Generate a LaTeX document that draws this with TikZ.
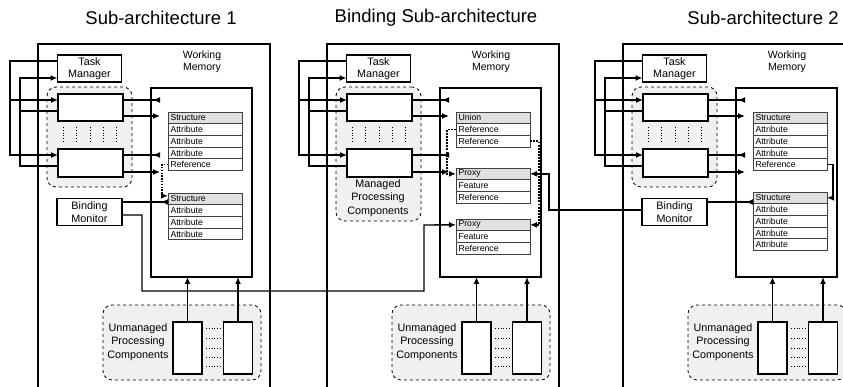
\documentclass[tikz,border=0pt]{standalone}
\usepackage{fontspec}
\setmainfont{Liberation Sans}
\usetikzlibrary{arrows.meta,calc}
\newcommand\mktable[5]{%
  \node[hrow] (#1-1) at (#2,#3) {#4};
  \foreach [count=\k from 2] \t in {#5} {\node[row] (#1-\k) at (#2,{#3+(\k-1)*11.7}) {\t};}%
}
\begin{document}
\begin{tikzpicture}[x=1pt,y=-1pt,
  every node/.style={inner sep=0pt, outer sep=0pt},
  box/.style={draw, line width=1.2pt, fill=white, minimum width=65pt, minimum height=27pt, align=center, font=\fontsize{10.8}{12.5}\selectfont},
  grp/.style={draw, dashed, line width=0.8pt, fill=black!6, rounded corners=9pt, anchor=north west},
  wmbox/.style={draw, line width=1.8pt, anchor=north west},
  outer/.style={line width=1.4pt},
  row/.style={draw=black!75, line width=0.6pt, fill=white, anchor=north west, minimum height=11.7pt, text width=69pt, inner xsep=2.5pt, align=left, font=\fontsize{8.7}{9}\selectfont},
  hrow/.style={row, fill=black!12},
  conn/.style={line width=1.4pt},
  tip/.style={-{Latex[length=7pt,width=6pt]}},
  rtip/.style={-{Latex[length=7pt,width=6pt,reversed]}},
  dotsa/.style={line width=1.4pt, dash pattern=on 1.4pt off 1.4pt},
  dotsb/.style={line width=1.9pt, dash pattern=on 1.9pt off 1.2pt},
  sep/.style={line width=0.8pt, dotted},
  lbl/.style={align=center, font=\fontsize{10.8}{13.5}\selectfont},
  ttl/.style={font=\fontsize{18.5}{22}\selectfont}
]
\useasboundingbox (0,0) rectangle (843,387);
\clip (0,0) rectangle (843,387);

\node[ttl] (t1) at (161,18) {Sub-architecture 1};
\node[ttl] (t2) at (436,18) {Binding Sub-architecture};
\node[ttl] (t3) at (763,18) {Sub-architecture 2};

\foreach \o/\sid/\gh in {0/a/100, 289/b/134, 585/c/100} {
 \begin{scope}[xshift=\o pt]
  \draw[outer] (38,395) -- (38,44) -- (270,44) -- (270,395);
  \node[box, minimum width=64pt] (tm\sid) at (89.5,68.5) {Task\\Manager};
  \node[grp, minimum width=85pt, minimum height=\gh pt] (mg\sid) at (47,87) {};
  \node[box] (ca\sid) at (90.5,107.5) {};
  \node[box, minimum height=28pt] (cb\sid) at (90.5,163) {};
  \foreach \vx in {63,76.5,90,103,116} \draw[sep] (\vx,127) -- (\vx,143);
  \node[wmbox, minimum width=101pt, minimum height=189pt] (wm\sid) at (151,88) {};
  \node[align=center, font=\fontsize{10.5}{12.5}\selectfont] (wl\sid) at (202,62) {Working\\Memory};
  % feedback lines
  \draw[conn,tip] (tm\sid.west |- 0,61) -| (10,155) -- (cb\sid.west |- 0,155);
  \draw[conn,tip] (10,100) -- (ca\sid.west |- 0,100);
  \draw[conn,tip] (ca\sid.west |- 0,111) -| (20,78) -- (tm\sid.west |- 0,78);
  \draw[conn] (cb\sid.west |- 0,166) -| (20,111);
  % components to WM
  \draw[conn,rtip] (ca\sid.east |- 0,100) -- (160,100);
  \draw[conn,tip] (ca\sid.east |- 0,116) -- (160,116);
  \draw[conn,rtip] (cb\sid.east |- 0,155) -- (160,155);
  \draw[conn,tip] (cb\sid.east |- 0,172) -- (160,172);
  % unmanaged
  \node[grp, minimum width=158pt, minimum height=75pt] (ug\sid) at (103,305) {};
  \node[lbl] (ut\sid) at (138,342) {Unmanaged\\Processing\\Components};
  \node[box, minimum width=29pt, minimum height=52pt] (ua\sid) at (187.5,348) {};
  \node[box, minimum width=29pt, minimum height=52pt] (ub\sid) at (238,348) {};
  \foreach \dy in {328,338,348,357,366} \draw[sep] (206,\dy) -- (222,\dy);
  \draw[conn,tip] (ua\sid.north) -- (ua\sid.north |- wm\sid.south);
  \draw[conn,tip] (ub\sid.north) -- (ub\sid.north |- wm\sid.south);
 \end{scope}
}

\node[lbl] (mgt) at (378,198) {Managed\\Processing\\Components};

% tables
\mktable{sa}{168}{112}{Structure}{Attribute,Attribute,Attribute,Reference}
\mktable{sb}{168}{193}{Structure}{Attribute,Attribute,Attribute}
\mktable{un}{456}{112}{Union}{Reference,Reference}
\mktable{pa}{456}{168}{Proxy}{Feature,Reference}
\mktable{pb}{456}{219}{Proxy}{Feature,Reference}
\mktable{ta}{753}{112}{Structure}{Attribute,Attribute,Attribute,Reference}
\mktable{tb}{753}{192}{Structure}{Attribute,Attribute,Attribute,Attribute}

% binding monitors
\node[box] (bma) at (89.5,212) {Binding\\Monitor};
\node[box] (bmc) at (674.5,212) {Binding\\Monitor};

% sub-architecture 1 links
\draw[dotsa,tip] (sa-5.west) -- ++(-6,0) |- ($(sb-1.west)+(0,-3)$);
\draw[conn,rtip] (bma.east |- 0,202) -- (sb-1.west |- 0,202);
\draw[conn,tip] (bma.east |- 0,215) -| (142,291) -| (424,225) -- (pb-1.west);

% binding links
\draw[dotsb,tip] (un-2.west) -- ++(-9,0) |- (pa-1.west);
\draw[dotsb,tip] (un-3.east) -- ++(9,0) |- (pb-1.east);
\draw[conn,tip] (bmc.west |- 0,210) -| ($(pa-1.east)+(19,0)$) -- (pa-1.east);

% sub-architecture 2 links
\draw[conn,tip] (ta-5.east) -- ++(6,0) |- (tb-1.east);
\draw[conn,rtip] (bmc.east |- 0,202) -- (tb-1.west |- 0,202);
\end{tikzpicture}
\end{document}
